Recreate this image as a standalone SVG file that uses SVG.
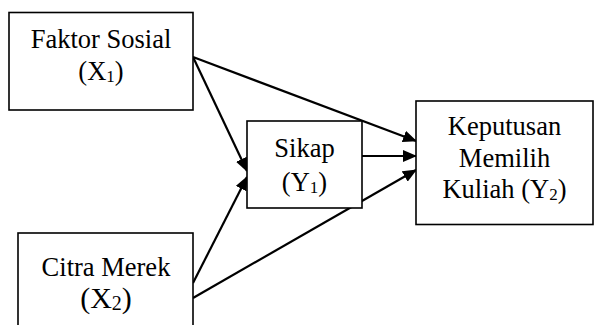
<svg xmlns="http://www.w3.org/2000/svg" width="595" height="325" viewBox="0 0 595 325">
  <style>
    .box { fill: #ffffff; stroke: #000000; stroke-width: 1.6; }
    text { font-family: "Liberation Serif", "Times New Roman", serif; font-size: 26.5px; fill: #000000; text-anchor: middle; }
    .sub { font-size: 17px; }
    .edge { fill: none; stroke: #000000; stroke-width: 2.2; marker-end: url(#arrow); }
  </style>
  <defs>
    <marker id="arrow" viewBox="0 0 14 12" refX="13" refY="6" markerWidth="14" markerHeight="12" markerUnits="userSpaceOnUse" orient="auto">
      <path d="M0,0 L14,6 L0,12 z" fill="#000000"/>
    </marker>
  </defs>
  <rect width="595" height="325" fill="#ffffff"/>

  <g id="connectors">
    <line class="edge" x1="193" y1="57" x2="416" y2="141"/>
    <line class="edge" x1="193" y1="57" x2="247" y2="171"/>
    <line class="edge" x1="362" y1="156" x2="416" y2="156"/>
    <line class="edge" x1="193" y1="283" x2="247" y2="177"/>
    <line class="edge" x1="193" y1="298" x2="416" y2="170"/>
  </g>

  <g id="faktor-sosial">
    <rect class="box" x="9" y="12.5" width="184" height="97.5"/>
    <text x="101" y="48">Faktor Sosial</text>
    <text x="101" y="80">(X<tspan class="sub" dy="2">1</tspan><tspan dy="-2">)</tspan></text>
  </g>

  <g id="citra-merek">
    <rect class="box" x="18" y="233" width="175" height="110"/>
    <text x="106" y="276">Citra Merek</text>
    <text x="106" y="308" style="font-size:30px">(X<tspan style="font-size:20px" dy="2">2</tspan><tspan dy="-2">)</tspan></text>
  </g>

  <g id="sikap">
    <rect class="box" x="247" y="121" width="115" height="87"/>
    <text x="304.5" y="157">Sikap</text>
    <text x="304.5" y="191">(Y<tspan class="sub" dy="2">1</tspan><tspan dy="-2">)</tspan></text>
  </g>

  <g id="keputusan">
    <rect class="box" x="416" y="101" width="177" height="123.5"/>
    <text x="504.5" y="135">Keputusan</text>
    <text x="504.5" y="167">Memilih</text>
    <text x="504.5" y="198">Kuliah (Y<tspan class="sub" dy="2">2</tspan><tspan dy="-2">)</tspan></text>
  </g>
</svg>
